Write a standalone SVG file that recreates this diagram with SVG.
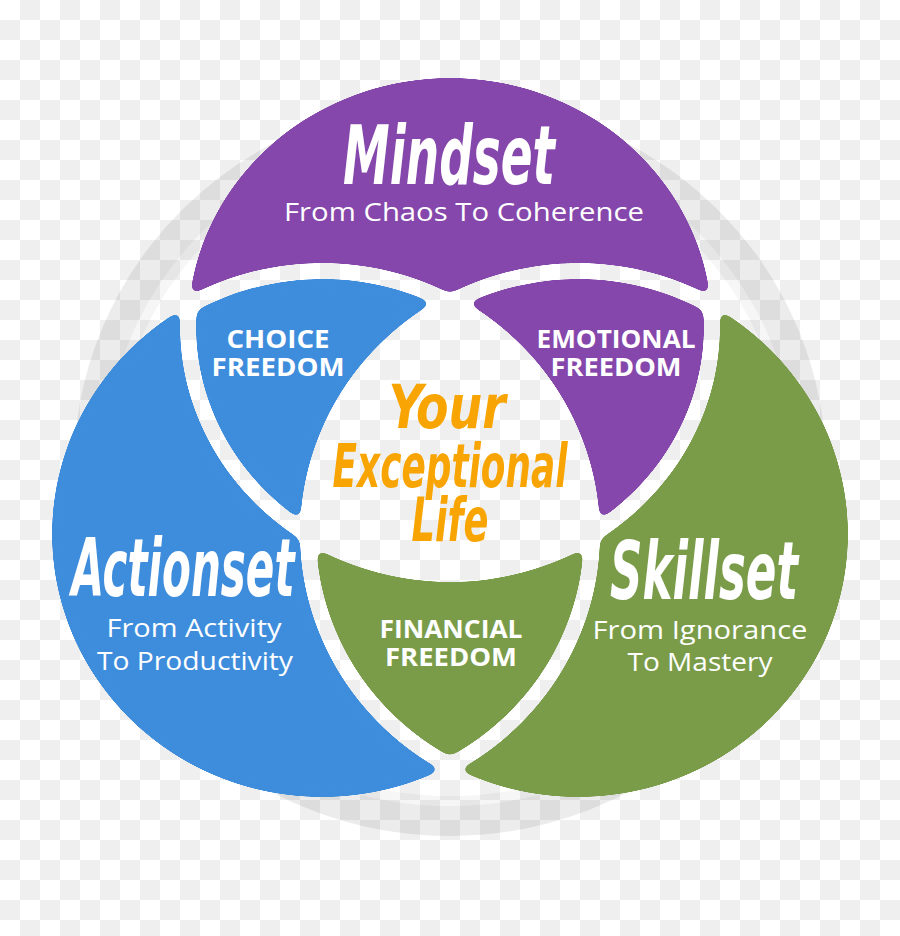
<svg xmlns="http://www.w3.org/2000/svg" width="900" height="936" viewBox="0 0 900 936">
<defs>
<style>
.script{font-family:"Liberation Sans Narrow","DejaVu Sans Condensed","Liberation Sans",sans-serif;font-weight:bold;font-style:italic;fill:#fff;text-anchor:middle}
.sub{font-family:"Open Sans","Liberation Sans",sans-serif;font-size:26px;fill:#fff;text-anchor:middle}
.cap{font-family:"Open Sans","Liberation Sans",sans-serif;font-weight:bold;font-size:25px;fill:#fff;text-anchor:middle}
.life{font-family:"Liberation Sans Narrow","DejaVu Sans Condensed","Liberation Sans",sans-serif;font-weight:bold;font-style:italic;fill:#f8a403;text-anchor:middle;font-size:60px}
.gap{fill:none;stroke:#000;stroke-width:16}
</style>
<pattern id="checker" width="40" height="40" patternUnits="userSpaceOnUse">
<rect width="40" height="40" fill="#fff"/>
<rect x="20" y="0" width="20" height="20" fill="#efefef"/>
<rect x="0" y="20" width="20" height="20" fill="#efefef"/>
</pattern>
<ellipse id="eP" cx="450" cy="326" rx="262" ry="248"/>
<ellipse id="eB" cx="322" cy="534" rx="270" ry="263"/>
<ellipse id="eG" cx="578" cy="534" rx="270" ry="263"/>
<clipPath id="cP"><use href="#eP"/></clipPath>
<clipPath id="cB"><use href="#eB"/></clipPath>
<clipPath id="cG"><use href="#eG"/></clipPath>
<clipPath id="cBG"><use href="#eB"/><use href="#eG"/></clipPath>
<clipPath id="cPG"><use href="#eP"/><use href="#eG"/></clipPath>
<clipPath id="cPB"><use href="#eP"/><use href="#eB"/></clipPath>
<mask id="gaps" maskUnits="userSpaceOnUse" x="0" y="0" width="900" height="936">
<rect width="900" height="936" fill="#fff"/>
<use href="#eP" class="gap" clip-path="url(#cBG)"/>
<use href="#eB" class="gap" clip-path="url(#cPG)"/>
<use href="#eG" class="gap" clip-path="url(#cPB)"/>
</mask>
<mask id="notB" maskUnits="userSpaceOnUse" x="0" y="0" width="900" height="936">
<rect width="900" height="936" fill="#fff"/><use href="#eB" fill="#000"/>
</mask>
<mask id="notG" maskUnits="userSpaceOnUse" x="0" y="0" width="900" height="936">
<rect width="900" height="936" fill="#fff"/><use href="#eG" fill="#000"/>
</mask>
<mask id="notP" maskUnits="userSpaceOnUse" x="0" y="0" width="900" height="936">
<rect width="900" height="936" fill="#fff"/><use href="#eP" fill="#000"/>
</mask>
<mask id="notBG" maskUnits="userSpaceOnUse" x="0" y="0" width="900" height="936">
<rect width="900" height="936" fill="#fff"/><use href="#eB" fill="#000"/><use href="#eG" fill="#000"/>
</mask>
<mask id="notPG" maskUnits="userSpaceOnUse" x="0" y="0" width="900" height="936">
<rect width="900" height="936" fill="#fff"/><use href="#eP" fill="#000"/><use href="#eG" fill="#000"/>
</mask>
<mask id="notPB" maskUnits="userSpaceOnUse" x="0" y="0" width="900" height="936">
<rect width="900" height="936" fill="#fff"/><use href="#eP" fill="#000"/><use href="#eB" fill="#000"/>
</mask>
<filter id="round" filterUnits="userSpaceOnUse" x="0" y="0" width="900" height="936" color-interpolation-filters="sRGB">
<feGaussianBlur stdDeviation="5"/>
<feComponentTransfer><feFuncA type="linear" slope="24" intercept="-11.5"/></feComponentTransfer>
</filter>
</defs>

<rect width="900" height="936" fill="url(#checker)"/>

<g id="ring" fill="none" stroke="#000">
<ellipse cx="450" cy="468" rx="361" ry="353" stroke-opacity="0.075" stroke-width="30"/>
<ellipse cx="450" cy="468" rx="341" ry="333" stroke-opacity="0.035" stroke-width="10"/>
</g>

<g id="mindset">
<g filter="url(#round)"><g mask="url(#gaps)"><g mask="url(#notBG)"><use href="#eP" fill="#8547ab"/></g></g></g>
<text class="script" x="449" y="184" font-size="82" textLength="212" lengthAdjust="spacingAndGlyphs">Mindset</text>
<text class="sub" x="464" y="221" textLength="360" lengthAdjust="spacingAndGlyphs">From Chaos To Coherence</text>
</g>

<g id="emotional-freedom">
<g filter="url(#round)"><g mask="url(#gaps)"><g mask="url(#notB)"><use href="#eP" fill="#8547ab" clip-path="url(#cG)"/></g></g></g>
<text class="cap" x="616" y="348" textLength="159" lengthAdjust="spacingAndGlyphs">EMOTIONAL</text>
<text class="cap" x="616" y="376" textLength="131" lengthAdjust="spacingAndGlyphs">FREEDOM</text>
</g>

<g id="choice-freedom">
<g filter="url(#round)"><g mask="url(#gaps)"><g mask="url(#notG)"><use href="#eB" fill="#3e8ddc" clip-path="url(#cP)"/></g></g></g>
<text class="cap" x="278" y="348" textLength="103" lengthAdjust="spacingAndGlyphs">CHOICE</text>
<text class="cap" x="278" y="376" textLength="133" lengthAdjust="spacingAndGlyphs">FREEDOM</text>
</g>

<g id="actionset">
<g filter="url(#round)"><g mask="url(#gaps)"><g mask="url(#notPG)"><use href="#eB" fill="#3e8ddc"/></g></g></g>
<text class="script" x="183" y="596" font-size="80" textLength="223" lengthAdjust="spacingAndGlyphs">Actionset</text>
<text class="sub" x="194" y="637" textLength="175" lengthAdjust="spacingAndGlyphs">From Activity</text>
<text class="sub" x="195" y="670" textLength="196" lengthAdjust="spacingAndGlyphs">To Productivity</text>
</g>

<g id="financial-freedom">
<g filter="url(#round)"><g mask="url(#gaps)"><g mask="url(#notP)"><use href="#eG" fill="#7a9c49" clip-path="url(#cB)"/></g></g></g>
<text class="cap" x="451" y="638" textLength="143" lengthAdjust="spacingAndGlyphs">FINANCIAL</text>
<text class="cap" x="451" y="666" textLength="132" lengthAdjust="spacingAndGlyphs">FREEDOM</text>
</g>

<g id="skillset">
<g filter="url(#round)"><g mask="url(#gaps)"><g mask="url(#notPB)"><use href="#eG" fill="#7a9c49"/></g></g></g>
<text class="script" x="704" y="599" font-size="80" textLength="188" lengthAdjust="spacingAndGlyphs">Skillset</text>
<text class="sub" x="700" y="639" textLength="215" lengthAdjust="spacingAndGlyphs">From Ignorance</text>
<text class="sub" x="700" y="671" textLength="145" lengthAdjust="spacingAndGlyphs">To Mastery</text>
</g>

<g id="your-exceptional-life">
<text class="life" x="447" y="428" textLength="117" lengthAdjust="spacingAndGlyphs">Your</text>
<text class="life" x="450" y="487" textLength="235" lengthAdjust="spacingAndGlyphs">Exceptional</text>
<text class="life" x="450" y="541" textLength="77" lengthAdjust="spacingAndGlyphs">Life</text>
</g>

<g id="connectors"/>
</svg>
